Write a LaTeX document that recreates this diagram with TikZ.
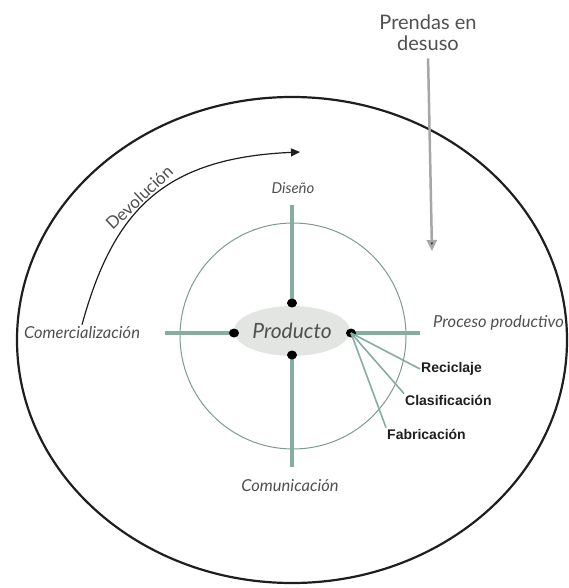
\documentclass[tikz,border=0pt]{standalone}
\usepackage{fontspec}
\usetikzlibrary{shapes.geometric,arrows.meta,positioning}
\newfontfamily\handfont{Lato}
\newfontfamily\tagfont{Liberation Sans}
\definecolor{sage}{HTML}{86AE9F}
\definecolor{ink}{HTML}{1E1E1E}
\definecolor{pencil}{HTML}{505050}
\definecolor{fog}{HTML}{E2E5E2}
\definecolor{ring}{HTML}{7E9A90}

\begin{document}
\begin{tikzpicture}[x=1pt,y=-1pt,
    hand/.style={text=pencil,font=\handfont\itshape\fontsize{16.5}{18}\selectfont,inner sep=1pt},
    tag/.style={text=ink,font=\tagfont\bfseries\fontsize{14}{16}\selectfont,inner sep=1pt,anchor=west},
    dot/.style={ellipse,fill=black,minimum width=10pt,minimum height=9pt,inner sep=0pt},
    stem/.style={sage,line width=4.5pt},
    fan/.style={sage,line width=1.6pt}]
  \useasboundingbox (0,0) rectangle (568,588);
  \draw[ink,line width=2.2pt] (292,340) ellipse [x radius=275,y radius=243];
  \draw[ring,line width=1pt] (293,336) circle [radius=113];

  \node[ellipse,fill=fog,minimum width=116pt,minimum height=50pt,inner sep=0pt,
        text=pencil,font=\handfont\itshape\fontsize{21}{23}\selectfont] (producto) at (292,331) {Producto};
  \node[hand,font=\handfont\itshape\fontsize{15}{17}\selectfont] (diseno) at (293,188) {Diseño};
  \node[hand] (comunicacion) at (290,486) {Comunicación};
  \node[hand] (comercial) at (82,332) {Comercialización};
  \node[hand,anchor=west] (proceso) at (432,323) {Proceso productivo};
  \node[tag] (reciclaje) at (420,369) {Reciclaje};
  \node[tag] (clasificacion) at (404,400) {Clasificación};
  \node[tag] (fabricacion) at (386,434) {Fabricación};
  \node[text=pencil,font=\handfont\fontsize{20}{21}\selectfont,align=center] (prendas) at (428,33) {Prendas en\\desuso};

  \coordinate (etop) at (292,205);
  \coordinate (ebot) at (292,467);
  \coordinate (eleft) at (165,333);
  \coordinate (eright) at (420,333);
  \coordinate (entrada) at (432,251);
  \coordinate (vuelta) at (300,152);

  \draw[stem] (292,303) -- (etop);
  \draw[stem] (292,355) -- (ebot);
  \draw[stem] (234,333) -- (eleft);
  \draw[stem] (351,333) -- (eright);
  \node[dot] (dtop) at (292,303) {};
  \node[dot] (dbot) at (292,355) {};
  \node[dot] (dleft) at (234,333) {};
  \node[dot] (dright) at (351,333) {};
  \draw[fan] (dright.center) -- (reciclaje.west);
  \draw[fan] (dright.center) -- (clasificacion.north west);
  \draw[fan] (dright.center) -- (fabricacion.north west);

  \draw[gray!70,line width=2.5pt,shorten <=4pt,-{Triangle[length=11pt,width=10pt,fill=ink]}] (prendas.south) -- (entrada);
  \draw[ink,line width=1.2pt,-{Triangle[length=9pt,width=8pt]}] (comercial.north) .. controls (113,212) and (162,158) .. (vuelta)
        node[pos=0.47,sloped,above,inner sep=1.5pt,text=pencil,font=\handfont\fontsize{17}{19}\selectfont] (devolucion) {Devolución};
\end{tikzpicture}
\end{document}
